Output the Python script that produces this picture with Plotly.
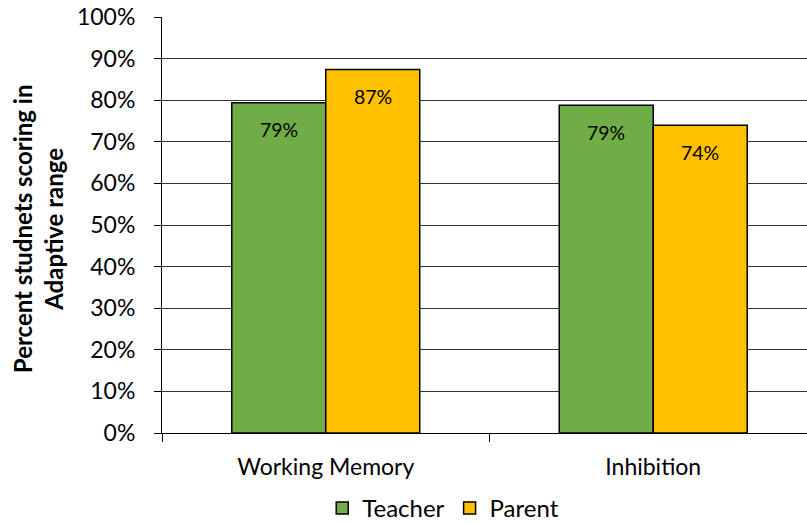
import plotly.graph_objects as go

# Share of students scoring in the adaptive range, by rater
categories = ["Working Memory", "Inhibition"]
teacher = [0.794, 0.788]
parent = [0.874, 0.740]
y_ticks = [i / 10 for i in range(11)]
y_tick_labels = [f"{i * 10}%" for i in range(11)]

font_family = "Lato, 'Open Sans', sans-serif"
green = "#70AD47"
gold = "#FFC000"

fig = go.Figure()
for name, vals, color in [("Teacher", teacher, green), ("Parent", parent, gold)]:
    fig.add_trace(go.Bar(
        name=name,
        x=categories,
        y=vals,
        marker=dict(color=color, line=dict(color="black", width=1.5)),
    ))

# Value labels placed just inside the top of each bar
for i, cat in enumerate(categories):
    for off, vals in [(-0.5, teacher), (0.5, parent)]:
        fig.add_annotation(
            x=i + off * 0.287,
            y=vals[i],
            text=f"{round(vals[i] * 100)}%",
            showarrow=False,
            yshift=-27,
            font=dict(family=font_family, size=19.5, color="black"),
            xref="x", yref="y",
        )

# Rotated two-line axis title
fig.add_annotation(
    text="<b>Percent studnets scoring in<br>Adaptive range</b>",
    textangle=-90,
    x=(38 - 162) / 645, xref="paper", xanchor="center",
    y=0.49, yref="paper", yanchor="middle",
    showarrow=False,
    font=dict(family=font_family, size=24, color="black"),
)

fig.update_layout(
    width=807,
    height=523,
    margin=dict(l=162, r=0, t=17, b=90, autoexpand=False),
    paper_bgcolor="white",
    plot_bgcolor="white",
    barmode="group",
    bargap=0.426,
    bargroupgap=0,
    font=dict(family=font_family, size=23, color="black"),
    showlegend=True,
    legend=dict(
        orientation="h",
        x=0.436, xanchor="center",
        y=-0.181, yanchor="middle",
        font=dict(size=24),
        itemwidth=30,
        tracegroupgap=0,
    ),
    xaxis=dict(
        range=[-0.5, 1.4695],
        showline=True, linecolor="black", linewidth=1,
        ticks="outside", tickson="boundaries", ticklen=8,
        tickcolor="black", tickwidth=1,
        showgrid=False,
        tickfont=dict(size=23),
        ticklabelstandoff=13,
    ),
    yaxis=dict(
        range=[0, 1],
        tickvals=y_ticks,
        ticktext=y_tick_labels,
        showline=True, linecolor="black", linewidth=1,
        ticks="outside", ticklen=7, tickcolor="black",
        showgrid=True, gridcolor="#333333", gridwidth=1.3,
        zeroline=False,
        tickfont=dict(size=23),
        ticklabelstandoff=14,
    ),
)

fig.write_html("out.html")
